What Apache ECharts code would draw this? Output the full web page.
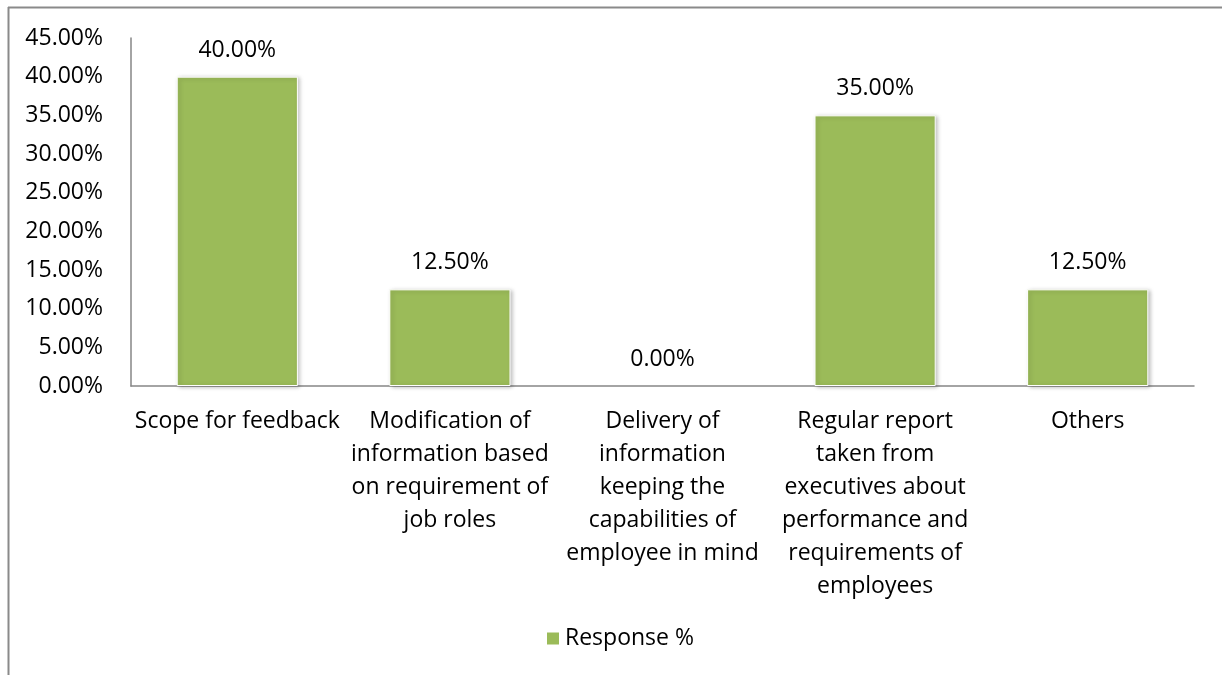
<!DOCTYPE html>
<html><head><meta charset="utf-8">
<script src="https://cdn.jsdelivr.net/npm/echarts@6/dist/echarts.min.js"></script>
<style>html,body{margin:0;padding:0;background:#fff}#c{width:1222px;height:675px}</style>
</head><body><div id="c"></div>
<script>
const categories = [
  "Scope for feedback",
  "Modification of\ninformation based\non requirement of\njob roles",
  "Delivery of\ninformation\nkeeping the\ncapabilities of\nemployee in mind",
  "Regular report\ntaken from\nexecutives about\nperformance and\nrequirements of\nemployees",
  "Others"
];
const responsePct = [40, 12.5, 0, 35, 12.5];
const seriesName = "Response %";
const yTicks = [0, 5, 10, 15, 20, 25, 30, 35, 40, 45];

const font = "'Open Sans', 'Noto Sans', sans-serif";
const fs = 23;
const chart = echarts.init(document.getElementById('c'));
chart.setOption({
  animation: false,
  textStyle: { fontFamily: font },
  graphic: [
    { type: 'line', shape: { x1: 8, y1: 7.5, x2: 1222, y2: 7.5 }, style: { stroke: '#8a8a8a', lineWidth: 2 } },
    { type: 'line', shape: { x1: 8.5, y1: 7, x2: 8.5, y2: 675 }, style: { stroke: '#8a8a8a', lineWidth: 2 } }
  ],
  grid: { left: 131, right: 28, top: 38, bottom: 289, containLabel: false },
  legend: {
    data: [seriesName], bottom: 20, left: 540,
    itemWidth: 14, itemHeight: 14, itemGap: 6, icon: 'rect',
    textStyle: { fontSize: fs, color: '#000', fontFamily: font }
  },
  xAxis: {
    type: 'category', data: categories,
    axisLine: { lineStyle: { color: '#868686', width: 1.5 } },
    axisTick: { show: false },
    axisLabel: { interval: 0, color: '#000', fontSize: fs, lineHeight: 33, margin: 19, fontFamily: font }
  },
  yAxis: {
    type: 'value', min: yTicks[0], max: yTicks[yTicks.length - 1], interval: 5,
    axisLine: { show: true, lineStyle: { color: '#868686', width: 1.5 } },
    axisTick: { show: false },
    splitLine: { show: false },
    axisLabel: { color: '#000', fontSize: fs, margin: 28, fontFamily: font,
      formatter: v => v.toFixed(2) + '%' }
  },
  series: [{
    name: seriesName, type: 'bar', barWidth: '57%',
    data: responsePct.map(v => v === 0 ? { value: v, itemStyle: { shadowColor: 'transparent', borderWidth: 0 } } : v),
    itemStyle: { color: '#9BBB59', borderColor: '#ffffff', borderWidth: 1,
      shadowColor: 'rgba(0,0,0,0.25)', shadowBlur: 4, shadowOffsetX: 2, shadowOffsetY: 1 },
    label: { show: true, position: 'top', distance: 15, color: '#000', fontSize: fs, fontFamily: font,
      formatter: p => p.value.toFixed(2) + '%' }
  }]
});
</script></body></html>
